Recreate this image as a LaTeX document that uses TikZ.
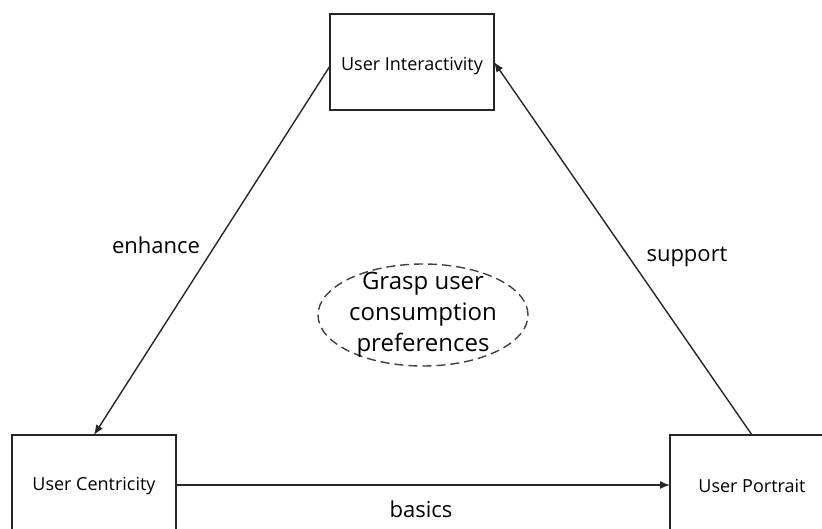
\documentclass[tikz,border=0pt]{standalone}
\usepackage{fontspec}
\setmainfont{Open Sans}
\usetikzlibrary{arrows.meta,shapes.geometric}
\begin{document}
\begin{tikzpicture}[x=1pt,y=-1pt,
  box/.style={draw=black!85,line width=1.7pt,fill=white},
  conn/.style={draw=black!85,line width=1.4pt,-{Latex[length=10pt,width=8pt]}},
  lab/.style={font=\fontsize{22}{26}\selectfont,inner sep=0pt},
  btext/.style={font=\fontsize{18}{22}\selectfont,inner sep=0pt}]
\useasboundingbox (0,0) rectangle (822,529);
\clip (0,0) rectangle (822,529);
% boxes
\draw[box] (330,14) rectangle (494,110);
\node[btext] (ui) at (412,66) {User Interactivity};
\coordinate (uiW) at (330,66);
\coordinate (uiE) at (494,62);
\draw[box] (12,435) rectangle (176,545);
\node[btext] (uc) at (94,486) {User Centricity};
\coordinate (ucN) at (94,435);
\coordinate (ucE) at (176,485);
\draw[box] (670,435) rectangle (840,545);
\node[btext] (up) at (752,486) {User Portrait};
\coordinate (upN) at (752,435);
\coordinate (upW) at (670,485);
% ellipse
\node[ellipse,draw=black!75,dashed,dash pattern=on 9pt off 5pt,line width=1.4pt,
  minimum width=210pt,minimum height=102pt,inner sep=0pt] (el) at (423,315) {};
\node[font=\fontsize{24}{31}\selectfont,align=center,inner sep=0pt] (elt) at (423,315)
  {Grasp user\\consumption\\preferences};
% connectors
\draw[conn] (uiW) -- (ucN);
\draw[conn] (upN) -- (uiE);
\draw[conn] (ucE) -- (upW);
% labels
\node[lab] (l1) at (156,245) {enhance};
\node[lab] (l2) at (687,257) {support};
\node[lab] (l3) at (421,509) {basics};
\end{tikzpicture}
\end{document}
